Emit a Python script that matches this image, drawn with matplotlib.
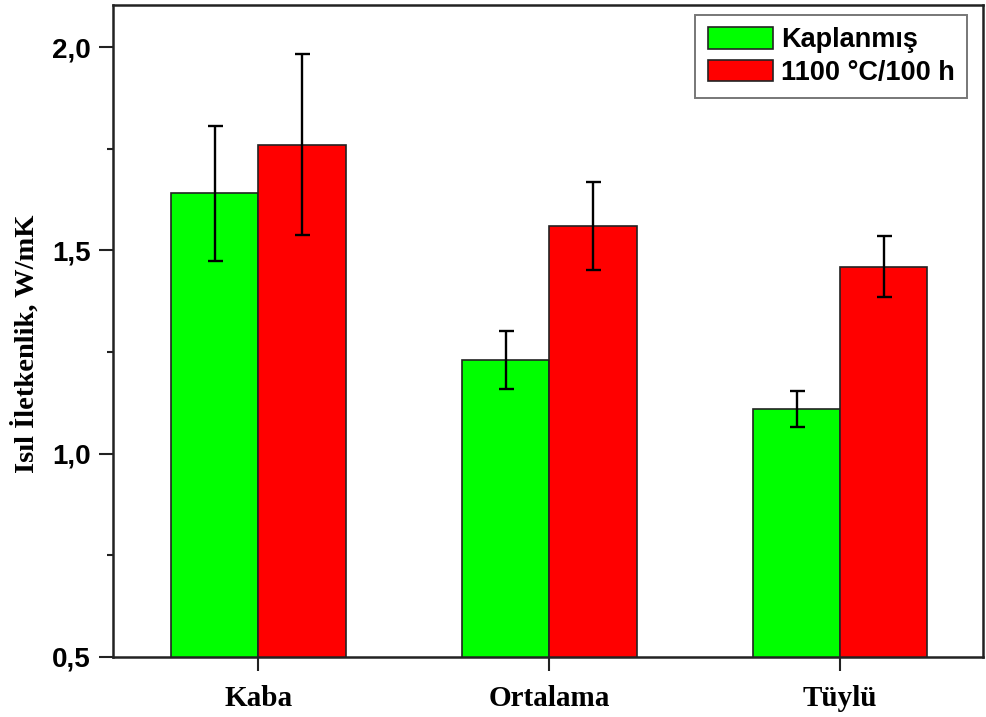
import numpy as np
import matplotlib.pyplot as plt

# Data
categories = ['Kaba', 'Ortalama', 'Tüylü']
kaplanmis = [1.64, 1.23, 1.11]
kaplanmis_err = [0.165, 0.072, 0.045]
isil_islem = [1.76, 1.56, 1.46]
isil_islem_err = [0.222, 0.108, 0.075]
series_labels = ['Kaplanmış', '1100 °C/100 h']

x = np.arange(1, len(categories) + 1)
width = 0.3

fig = plt.figure(figsize=(9.86, 7.17), dpi=100)
ax = fig.add_axes([0.1146, 0.0837, 0.882, 0.909])

err_style = dict(ecolor='black', elinewidth=1.7, capsize=5.4, capthick=1.7)
ax.bar(x - width / 2, kaplanmis, width, bottom=0, color='#00ff00', edgecolor='#222222',
       linewidth=1.2, yerr=kaplanmis_err, error_kw=err_style, label=series_labels[0])
ax.bar(x + width / 2, isil_islem, width, bottom=0, color='#ff0000', edgecolor='#222222',
       linewidth=1.2, yerr=isil_islem_err, error_kw=err_style, label=series_labels[1])

ax.set_xlim(0.5, 3.49)
ax.set_ylim(0.5, 2.103)

ax.set_yticks([0.5, 1.0, 1.5, 2.0])
ax.set_yticklabels(['0,5', '1,0', '1,5', '2,0'])
ax.set_yticks([0.75, 1.25, 1.75], minor=True)
ax.set_xticks(x)
ax.set_xticklabels(categories)

for lab in ax.get_yticklabels():
    lab.set_fontfamily('Liberation Sans')
    lab.set_fontweight('bold')
    lab.set_fontsize(20)
for lab in ax.get_xticklabels():
    lab.set_fontfamily('Liberation Serif')
    lab.set_fontweight('bold')
    lab.set_fontsize(21)

ax.tick_params(axis='both', which='major', direction='out', length=10, width=1.5, color='#222222')
ax.tick_params(axis='y', which='minor', direction='out', length=4.5, width=1.5, color='#222222')
ax.tick_params(axis='x', pad=10)
ax.tick_params(axis='y', pad=6)

for sp in ax.spines.values():
    sp.set_linewidth(1.8)
    sp.set_color('#222222')

ax.set_ylabel('Isıl İletkenlik, W/mK', fontfamily='Liberation Serif', fontweight='bold',
              fontsize=20.5)
ax.yaxis.set_label_coords(-0.084, 0.48)

leg = ax.legend(loc='upper right', bbox_to_anchor=(0.9816, 0.9847), borderaxespad=0,
                prop={'family': 'Liberation Sans', 'weight': 'bold', 'size': 19.5},
                frameon=True, fancybox=False, edgecolor='#555555', handlelength=2.4,
                handleheight=0.83, labelspacing=0.25, borderpad=0.45, handletextpad=0.3)
leg.get_frame().set_linewidth(1.4)

fig.savefig('out.png', dpi=100)
